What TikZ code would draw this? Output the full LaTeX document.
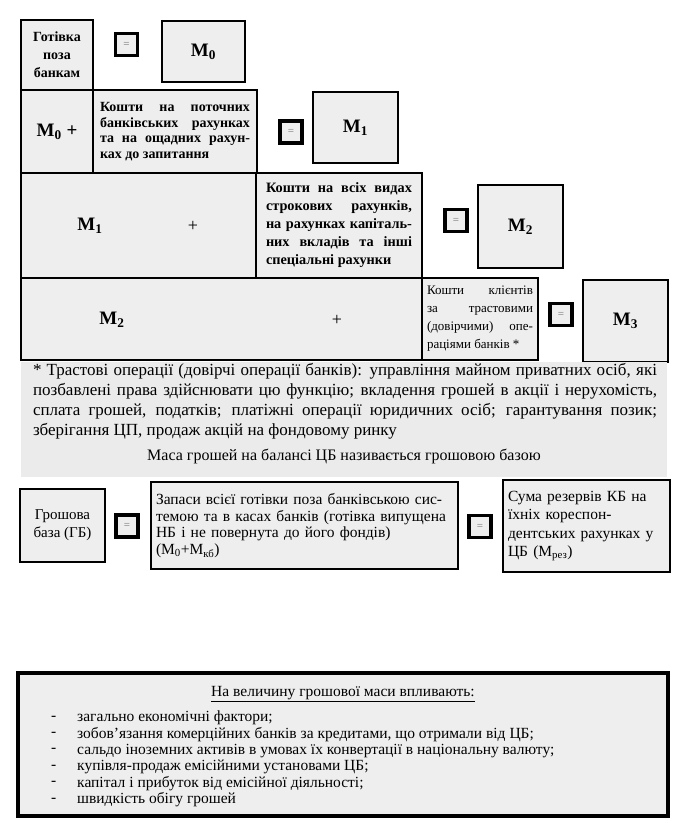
\documentclass[tikz,border=0pt]{standalone}
\usepackage{fontspec}
\setmainfont{Liberation Serif}
\definecolor{cellgray}{RGB}{238,238,238}
\definecolor{notegray}{RGB}{235,235,235}
\usetikzlibrary{positioning}

\begin{document}
\begin{tikzpicture}[x=1pt, y=-1pt,
    cell/.style={draw=black, line width=2.6pt, fill=cellgray, inner sep=0pt, outer sep=0pt},
    eqbox/.style={draw=black, line width=3.6pt, fill=cellgray, minimum size=22pt, inner sep=0pt,
      font=\fontsize{11}{11}\selectfont, text=black!55},
    mlabel/.style={font=\fontsize{19}{21}\selectfont\bfseries},
    boldtext/.style={font=\fontsize{14}{15.5}\selectfont\bfseries, align=justify},
    plaintext/.style={font=\fontsize{15.5}{16.8}\selectfont, align=left},
    listtext/.style={font=\fontsize{15.5}{16}\selectfont, anchor=west, inner sep=0pt}]
  \useasboundingbox (0,0) rectangle (682,823);

  % M0
  \node[cell, minimum width=72, minimum height=70, font=\fontsize{14}{18}\selectfont\bfseries, align=center]
    (cash) at (57,55) {Готівка\\поза\\банкам};
  \node[eqbox] (eqa) at (126.5,44.5) {=};
  \node[cell, minimum width=83, minimum height=61, mlabel] (mzero) at (203.5,51.5) {M\textsubscript{0}};

  % M1
  \node[cell, minimum width=72, minimum height=83, mlabel] (mzeroplus) at (57,131.5) {M\textsubscript{0} +};
  \node[cell, minimum width=164, minimum height=83, text width=150, boldtext] (demand) at (175,131.5)
    {Кошти на поточних\linebreak банківських рахунках\linebreak та на ощадних рахун-\linebreak ках до запитання};
  \node[eqbox] (eqb) at (291,132) {=};
  \node[cell, minimum width=85, minimum height=71, mlabel] (mone) at (355.5,127.5) {M\textsubscript{1}};

  % M2
  \node[cell, minimum width=235, minimum height=105] (rowthree) at (138.5,225.5) {};
  \node[mlabel] (monebis) at (90,226) {M\textsubscript{1}};
  \node[font=\fontsize{18}{20}\selectfont] (plusa) at (193,226) {+};
  \node[cell, minimum width=166, minimum height=105, text width=146,
    font=\fontsize{14.3}{18}\selectfont\bfseries, align=justify] (term) at (339,225.5)
    {Кошти на всіх видах\linebreak строкових рахунків,\linebreak на рахунках капіталь-\linebreak них вкладів та інші\linebreak спеціальні рахунки};
  \node[eqbox] (eqc) at (456,220.5) {=};
  \node[cell, minimum width=85, minimum height=83, mlabel] (mtwo) at (520.5,226.5) {M\textsubscript{2}};

  % M3
  \node[cell, minimum width=401, minimum height=82] (rowfour) at (221.5,319) {};
  \node[mlabel] (mtwobis) at (112,320) {M\textsubscript{2}};
  \node[font=\fontsize{18}{20}\selectfont] (plusb) at (337,320) {+};
  \node[cell, minimum width=116, minimum height=82, text width=106,
    font=\fontsize{13}{18}\selectfont, align=justify] (trust) at (480,319)
    {Кошти клієнтів\linebreak за трастовими\linebreak (довірчими) опе-\linebreak раціями банків *};
  \node[eqbox] (eqd) at (561,314.5) {=};
  \node[cell, minimum width=85, minimum height=82, mlabel] (mthree) at (625.5,321) {M\textsubscript{3}};

  % note
  \fill[notegray] (21,362) rectangle (667,477);
  \node[text width=624, font=\fontsize{17}{20}\selectfont, align=justify] (note) at (345,401)
    {* Трастові операції (довірчі операції банків): управління майном приватних осіб, які\linebreak
     позбавлені права здійснювати цю функцію; вкладення грошей в акції і нерухомість,\linebreak
     сплата грошей, податків; платіжні операції юридичних осіб; гарантування позик;\linebreak
     зберігання ЦП, продаж акцій на фондовому ринку};
  \node[font=\fontsize{16}{18}\selectfont] (base) at (344,456) {Маса грошей на балансі ЦБ називається грошовою базою};

  % monetary base
  \node[cell, minimum width=85, minimum height=73, font=\fontsize{15}{18}\selectfont, align=center]
    (mbase) at (62.5,525.5) {Грошова\\база (ГБ)};
  \node[eqbox] (eqe) at (127,526) {=};
  \node[cell, minimum width=307, minimum height=87, text width=297, plaintext] (cashall) at (304.5,525.5)
    {Запаси всієї готівки поза банківською сис-\\темою та в касах банків (готівка випущена\\НБ і не повернута до його фондів)\\(M\textsubscript{0}+M\textsubscript{кб})};
  \node[eqbox] (eqf) at (480,526.5) {=};
  \node[cell, minimum width=167, minimum height=92, text width=157, font=\fontsize{15.5}{18.5}\selectfont, align=left]
    (reserves) at (586.5,526)
    {Сума резервів КБ на\\їхніх кореспон-\\дентських рахунках у\\ЦБ (M\textsubscript{рез})};

  % factors
  \node[cell, line width=3.4pt, minimum width=650, minimum height=143] (factors) at (343,744.5) {};
  \node[font=\fontsize{15.5}{16}\selectfont] (ftitle) at (343,694) {\underline{На величину грошової маси впливають:}};
  \foreach \txt [count=\i from 0] in {загально економічні фактори;,
      зобов’язання комерційних банків за кредитами{,} що отримали від ЦБ;,
      сальдо іноземних активів в умовах їх конвертації в національну валюту;,
      купівля-продаж емісійними установами ЦБ;,
      капітал і прибуток від емісійної діяльності;,
      швидкість обігу грошей} {
    \node[listtext] (dash\i) at (51,718+16.4*\i) {-};
    \node[listtext] (item\i) at (77,718+16.4*\i) {\txt};
  }
\end{tikzpicture}
\end{document}
